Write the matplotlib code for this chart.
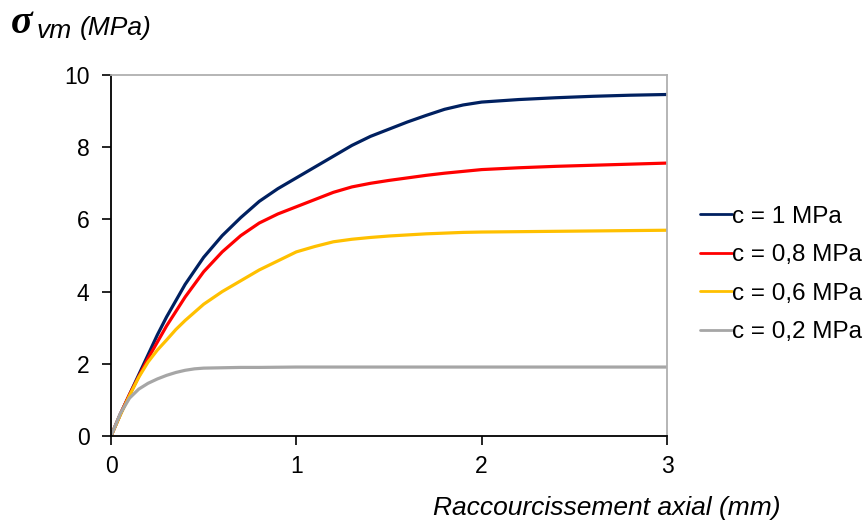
import matplotlib
matplotlib.use("Agg")
import matplotlib.pyplot as plt

plt.rcParams['font.family'] = ['Liberation Sans', 'DejaVu Sans']

x_c1 = [0, .05, .1, .15, .2, .25, .3, .35, .4, .5, .6, .7, .8, .9, 1.0, 1.1, 1.2, 1.3, 1.4,
        1.5, 1.6, 1.7, 1.8, 1.9, 2.0, 2.2, 2.4, 2.6, 2.8, 3.0]
y_c1 = [0, .6, 1.15, 1.7, 2.25, 2.8, 3.3, 3.75, 4.2, 4.95, 5.55, 6.05, 6.5, 6.85, 7.15, 7.45,
        7.75, 8.05, 8.3, 8.5, 8.7, 8.88, 9.05, 9.17, 9.25, 9.32, 9.37, 9.41, 9.44, 9.46]

x_c08 = [0, .05, .1, .15, .2, .25, .3, .35, .4, .5, .6, .7, .8, .9, 1.0, 1.1, 1.2, 1.3, 1.4,
         1.5, 1.6, 1.7, 1.8, 1.9, 2.0, 2.2, 2.4, 2.6, 2.8, 3.0]
y_c08 = [0, .6, 1.15, 1.65, 2.15, 2.6, 3.05, 3.45, 3.85, 4.55, 5.1, 5.55, 5.9, 6.15, 6.35, 6.55,
         6.75, 6.9, 7.0, 7.08, 7.15, 7.22, 7.28, 7.33, 7.38, 7.43, 7.47, 7.5, 7.53, 7.56]

x_c06 = [0, .05, .1, .15, .2, .25, .3, .35, .4, .5, .6, .7, .8, .9, 1.0, 1.1, 1.2, 1.3, 1.4,
         1.5, 1.6, 1.7, 1.8, 1.9, 2.0, 2.2, 2.4, 2.6, 2.8, 3.0]
y_c06 = [0, .58, 1.12, 1.63, 2.05, 2.38, 2.66, 2.95, 3.2, 3.65, 4.0, 4.3, 4.6, 4.85, 5.1, 5.25,
         5.38, 5.45, 5.5, 5.54, 5.57, 5.6, 5.62, 5.64, 5.65, 5.66, 5.67, 5.68, 5.69, 5.7]

x_c02 = [0, .05, .1, .15, .2, .25, .3, .35, .4, .45, .5, .6, .7, .8, 1.0, 1.5, 2.0, 2.5, 3.0]
y_c02 = [0, .62, 1.05, 1.3, 1.46, 1.58, 1.68, 1.76, 1.82, 1.86, 1.88, 1.89, 1.9, 1.9, 1.91,
         1.91, 1.91, 1.91, 1.91]

labels = ["c = 1 MPa", "c = 0,8 MPa", "c = 0,6 MPa", "c = 0,2 MPa"]
colors = ["#002060", "#FF0000", "#FFC000", "#A6A6A6"]

x_ticks = [0, 1, 2, 3]
y_ticks = [0, 2, 4, 6, 8, 10]

FS = 16.5
FS_LEG = 17.5
FS_TITLE = 19

fig = plt.figure(figsize=(8.63, 5.22), dpi=100)
ax = fig.add_axes([111/863, 1-436/522, (667-111)/863, (436-75)/522])

series = [(x_c1, y_c1), (x_c08, y_c08), (x_c06, y_c06), (x_c02, y_c02)]
for (xs, ys), lab, col in zip(series, labels, colors):
    ax.plot(xs, ys, color=col, lw=2.3, label=lab, solid_capstyle='round', solid_joinstyle='round')

ax.set_xlim(0, 3)
ax.set_ylim(0, 10)
ax.set_xticks(x_ticks)
ax.set_yticks(y_ticks)
ax.tick_params(axis='both', labelsize=FS, direction='out', length=6.5, width=1.2, colors='black')
ax.tick_params(axis='y', pad=9)
ax.tick_params(axis='x', pad=7)
for s in ['left', 'bottom']:
    ax.spines[s].set_color('black')
    ax.spines[s].set_linewidth(1.3)
for s in ['top', 'right']:
    ax.spines[s].set_color('#B0B0B0')
    ax.spines[s].set_linewidth(1.3)

leg = fig.legend(loc='center left', bbox_to_anchor=(700/863, 1-274.5/522), frameon=False,
                 fontsize=FS_LEG, handlelength=1.3, handletextpad=0.0, labelspacing=0.68,
                 borderpad=0, borderaxespad=0)
for h in leg.get_lines():
    h.set_linewidth(2.0)

fig.text(780/863, 1-508/522, "Raccourcissement axial (mm)", ha='right', va='center',
         fontsize=FS_TITLE, style='italic')

fig.text(11/863, 1-24/522, "σ", ha='left', va='center', fontsize=29,
         family=['Liberation Serif', 'DejaVu Serif'], style='italic', weight='bold')
fig.text(37/863, 1-31/522, "vm", ha='left', va='center', fontsize=FS_TITLE, style='italic')
fig.text(80/863, 1-28/522, "(MPa)", ha='left', va='center', fontsize=FS_TITLE, style='italic')

fig.savefig("out.png", dpi=100)
